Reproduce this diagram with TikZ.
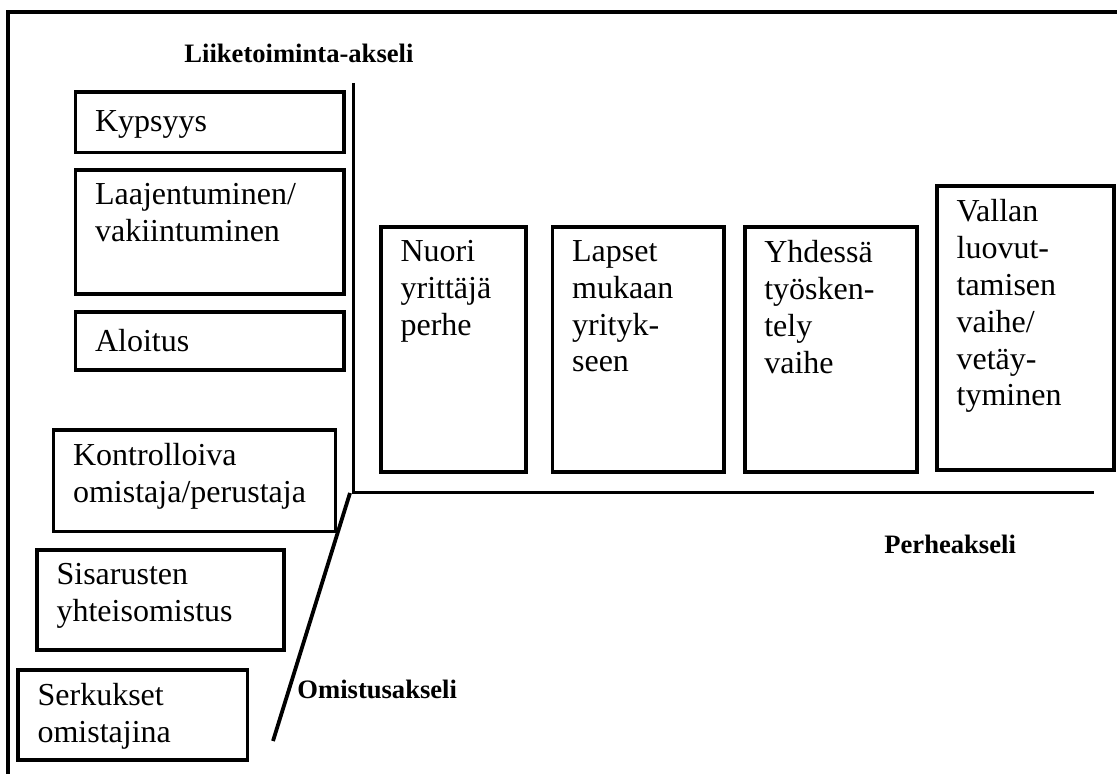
\documentclass[tikz,border=0pt]{standalone}
\usepackage{fontspec}
\setmainfont{Liberation Serif}
\usetikzlibrary{fit}
\tikzset{
  stagebox/.style={draw, line width=1.8pt, inner sep=0pt},
  stagetext/.style={anchor=north west, inner sep=0pt, align=left,
    font=\fontsize{16}{18.4}\selectfont, execute at begin node=\strut},
  axislabel/.style={anchor=base west, inner sep=0pt,
    font=\fontsize{13.3}{16}\selectfont\bfseries},
  axisline/.style={line width=1.9pt},
}
\begin{document}
\begin{tikzpicture}[x=0.5pt,y=-0.5pt]
  \useasboundingbox (0,0) rectangle (1117,774);
  % frame
  \draw[line width=2pt] (8,774) -- (8,12.5) -- (1117,12.5);

  % axes
  \coordinate (origin) at (353.5,492.5);
  \coordinate (businesstop) at (353.5,83);
  \coordinate (familyend) at (1094,492.5);
  \coordinate (ownertop) at (350,493);
  \coordinate (ownerend) at (273,741);
  \draw[axisline] (businesstop) -- (origin) -- (familyend);
  \draw[axisline] (ownertop) -- (ownerend);

  \node[axislabel] (businesslabel) at (184,63) {Liiketoiminta-akseli};
  \node[axislabel] (familylabel) at (884,553) {Perheakseli};
  \node[axislabel] (ownerlabel) at (297,698) {Omistusakseli};

  % business axis
  \node[stagebox, fit={(75.5,92) (344,152.5)}] (kypsyys) {};
  \node[stagetext] (kypsyys-t) at ([shift={(21,15)}]kypsyys.north west) {Kypsyys};
  \node[stagebox, fit={(75.5,170) (344,294)}] (laaj) {};
  \node[stagetext] (laaj-t) at ([shift={(21,15)}]laaj.north west) {Laajentuminen/\\vakiintuminen};
  \node[stagebox, fit={(75.5,312) (344,370)}] (aloitus) {};
  \node[stagetext] (aloitus-t) at ([shift={(21,15)}]aloitus.north west) {Aloitus};

  % ownership axis
  \node[stagebox, fit={(53.5,430) (335.5,531.5)}] (kontr) {};
  \node[stagetext] (kontr-t) at ([shift={(21,15)}]kontr.north west) {Kontrolloiva\\omistaja/perustaja};
  \node[stagebox, fit={(37,550) (284,650)}] (sisar) {};
  \node[stagetext] (sisar-t) at ([shift={(21,15)}]sisar.north west) {Sisarusten\\yhteisomistus};
  \node[stagebox, fit={(18,670) (247.5,760)}] (serk) {};
  \node[stagetext] (serk-t) at ([shift={(21,15)}]serk.north west) {Serkukset\\omistajina};

  % family axis
  \node[stagebox, fit={(381,227) (526,472)}] (nuori) {};
  \node[stagetext] (nuori-t) at ([shift={(21,15)}]nuori.north west) {Nuori\\yrittäjä\\perhe};
  \node[stagebox, fit={(552.5,227) (723.7,472)}] (lapset) {};
  \node[stagetext] (lapset-t) at ([shift={(21,15)}]lapset.north west) {Lapset\\mukaan\\yrityk-\\seen};
  \node[stagebox, fit={(744.7,227) (917,472)}] (yhdessa) {};
  \node[stagetext] (yhdessa-t) at ([shift={(21,15)}]yhdessa.north west) {Yhdessä\\työsken-\\tely\\vaihe};
  \node[stagebox, fit={(937,186) (1114,469.7)}] (vallan) {};
  \node[stagetext] (vallan-t) at ([shift={(21,15)}]vallan.north west) {Vallan\\luovut-\\tamisen\\vaihe/\\vetäy-\\tyminen};
\end{tikzpicture}
\end{document}
